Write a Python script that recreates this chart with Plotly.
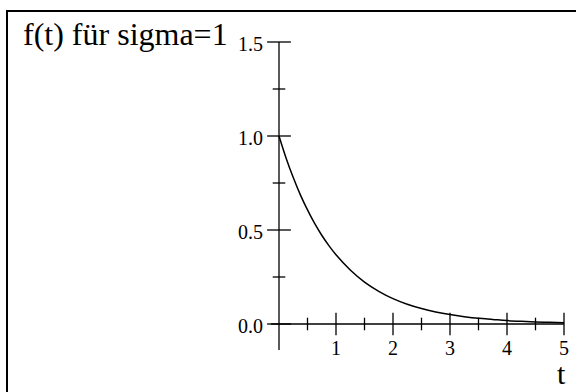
import plotly.graph_objects as go

# f(t) for sigma = 1, sampled along t
t_vals = [0.0, 0.125, 0.25, 0.375, 0.5, 0.625, 0.75, 0.875, 1.0, 1.25, 1.5, 1.75,
          2.0, 2.25, 2.5, 2.75, 3.0, 3.25, 3.5, 3.75, 4.0, 4.25, 4.5, 4.75, 5.0]
f_vals = [1.0, 0.882, 0.779, 0.687, 0.607, 0.535, 0.472, 0.417, 0.368, 0.287, 0.223, 0.174,
          0.135, 0.105, 0.082, 0.064, 0.050, 0.039, 0.030, 0.024, 0.018, 0.014, 0.011, 0.009, 0.007]

x_major = [1, 2, 3, 4, 5]
x_minor = [0.5, 1.5, 2.5, 3.5, 4.5]
x_labels = ["1", "2", "3", "4", "5"]
y_major = [0.0, 0.5, 1.0, 1.5]
y_minor = [0.25, 0.75, 1.25]
y_labels = ["0.0", "0.5", "1.0", "1.5"]

title_text = "f(t) für sigma=1"
x_title = "t"

W, H = 576, 392
FONT = "Liberation Serif, Times New Roman, serif"

# pixel scale of the axes
x0_px, px_per_x = 279, 57.0
y0_px, px_per_y = 324, 188.0
x_range = [-x0_px / px_per_x, (W - x0_px) / px_per_x]
y_range = [-(H - y0_px) / px_per_y, y0_px / px_per_y]

black = "#000000"
fig = go.Figure()

# axis lines
fig.add_trace(go.Scatter(x=[0, 0], y=[-26 / px_per_y, 1.5], mode="lines",
                         line=dict(color=black, width=1.3), hoverinfo="skip"))
fig.add_trace(go.Scatter(x=[-8 / px_per_x, 5], y=[0, 0], mode="lines",
                         line=dict(color=black, width=1.3), hoverinfo="skip"))

# tick marks crossing the axes
fig.add_trace(go.Scatter(x=x_major, y=[0] * len(x_major), mode="markers",
                         marker=dict(symbol="line-ns", size=16, line=dict(color=black, width=1.3)),
                         hoverinfo="skip"))
fig.add_trace(go.Scatter(x=x_minor, y=[0] * len(x_minor), mode="markers",
                         marker=dict(symbol="line-ns", size=9, line=dict(color=black, width=1.3)),
                         hoverinfo="skip"))
fig.add_trace(go.Scatter(x=[0] * len(y_major), y=y_major, mode="markers",
                         marker=dict(symbol="line-ew", size=17, line=dict(color=black, width=1.3)),
                         hoverinfo="skip"))
fig.add_trace(go.Scatter(x=[0] * len(y_minor), y=y_minor, mode="markers",
                         marker=dict(symbol="line-ew", size=9, line=dict(color=black, width=1.3)),
                         hoverinfo="skip"))

# the curve
fig.add_trace(go.Scatter(x=t_vals, y=f_vals, mode="lines", line_shape="spline",
                         line=dict(color=black, width=1.5), hoverinfo="skip"))

annotations = []
for v, lab in zip(x_major, x_labels):
    annotations.append(dict(x=v, y=0, xref="x", yref="y", text=lab, showarrow=False,
                            xanchor="center", yanchor="middle", yshift=-24,
                            font=dict(family=FONT, size=20, color=black)))
for v, lab in zip(y_major, y_labels):
    annotations.append(dict(x=0, y=v, xref="x", yref="y", text=lab, showarrow=False,
                            xanchor="right", yanchor="middle", xshift=-14, yshift=-2,
                            font=dict(family=FONT, size=20, color=black)))
annotations.append(dict(x=5, y=0, xref="x", yref="y", text=x_title, showarrow=False,
                        xanchor="center", yanchor="middle", xshift=-3, yshift=-49,
                        font=dict(family=FONT, size=30, color=black)))
annotations.append(dict(x=21 / W, y=1 - 34 / H, xref="paper", yref="paper", text=title_text,
                        showarrow=False, xanchor="left", yanchor="middle",
                        font=dict(family=FONT, size=32, color=black)))

fig.update_layout(
    width=W, height=H,
    margin=dict(l=0, r=0, t=0, b=0),
    paper_bgcolor="white", plot_bgcolor="white",
    showlegend=False,
    xaxis=dict(range=x_range, visible=False, fixedrange=True),
    yaxis=dict(range=y_range, visible=False, fixedrange=True),
    annotations=annotations,
    shapes=[dict(type="rect", xref="paper", yref="paper",
                 x0=7 / W, x1=1.05, y0=-0.05, y1=1 - 11 / H,
                 line=dict(color=black, width=2))],
)

fig.write_html("out.html", config=dict(displayModeBar=False))
